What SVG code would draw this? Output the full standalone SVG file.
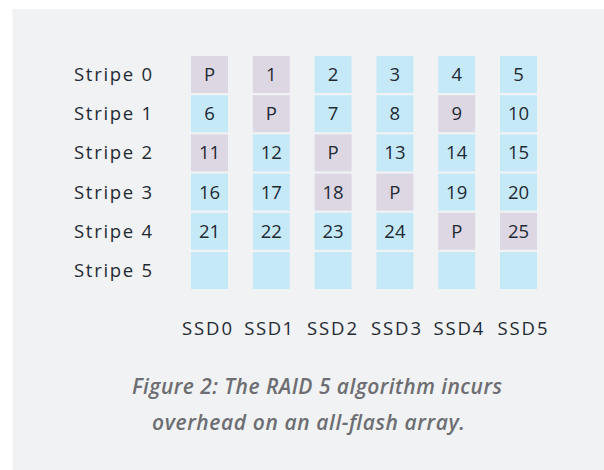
<svg xmlns="http://www.w3.org/2000/svg" width="604" height="470" viewBox="0 0 604 470">
<style>
.bg{fill:#f1f2f4}
.d{fill:#c6e9f8}
.p{fill:#ddd6e3}
.t{font-family:"Open Sans","Liberation Sans",sans-serif;font-size:18.5px;fill:#1f2a33}
.c{text-anchor:middle}
.cap{font-family:"Open Sans","Liberation Sans",sans-serif;font-size:21px;font-style:italic;font-weight:600;fill:#6d6e72;text-anchor:middle}
</style>
<rect class="bg" x="12.5" y="9" width="592" height="461"/>
<g id="stripe-labels" class="t">
<text x="74" y="81" textLength="78" lengthAdjust="spacing">Stripe 0</text>
<text x="74" y="120.2" textLength="78" lengthAdjust="spacing">Stripe 1</text>
<text x="74" y="159.4" textLength="78" lengthAdjust="spacing">Stripe 2</text>
<text x="74" y="198.6" textLength="78" lengthAdjust="spacing">Stripe 3</text>
<text x="74" y="237.8" textLength="78" lengthAdjust="spacing">Stripe 4</text>
<text x="74" y="277" textLength="78" lengthAdjust="spacing">Stripe 5</text>
</g>
<g id="ssd0">
<rect class="p" x="191" y="56" width="37" height="37"/><text class="t c" x="209.5" y="81">P</text>
<rect class="d" x="191" y="95.2" width="37" height="37"/><text class="t c" x="209.5" y="120.2">6</text>
<rect class="p" x="191" y="134.4" width="37" height="37"/><text class="t c" x="209.5" y="159.4">11</text>
<rect class="d" x="191" y="173.6" width="37" height="37"/><text class="t c" x="209.5" y="198.6">16</text>
<rect class="d" x="191" y="212.8" width="37" height="37"/><text class="t c" x="209.5" y="237.8">21</text>
<rect class="d" x="191" y="252" width="37" height="37"/>
<text class="t c" x="207" y="334.5" textLength="50" lengthAdjust="spacing">SSD0</text>
</g>
<g id="ssd1">
<rect class="p" x="252.8" y="56" width="37" height="37"/><text class="t c" x="271.3" y="81">1</text>
<rect class="p" x="252.8" y="95.2" width="37" height="37"/><text class="t c" x="271.3" y="120.2">P</text>
<rect class="d" x="252.8" y="134.4" width="37" height="37"/><text class="t c" x="271.3" y="159.4">12</text>
<rect class="d" x="252.8" y="173.6" width="37" height="37"/><text class="t c" x="271.3" y="198.6">17</text>
<rect class="d" x="252.8" y="212.8" width="37" height="37"/><text class="t c" x="271.3" y="237.8">22</text>
<rect class="d" x="252.8" y="252" width="37" height="37"/>
<text class="t c" x="268.7" y="334.5" textLength="49" lengthAdjust="spacing">SSD1</text>
</g>
<g id="ssd2">
<rect class="d" x="314.6" y="56" width="37" height="37"/><text class="t c" x="333.1" y="81">2</text>
<rect class="d" x="314.6" y="95.2" width="37" height="37"/><text class="t c" x="333.1" y="120.2">7</text>
<rect class="p" x="314.6" y="134.4" width="37" height="37"/><text class="t c" x="333.1" y="159.4">P</text>
<rect class="p" x="314.6" y="173.6" width="37" height="37"/><text class="t c" x="333.1" y="198.6">18</text>
<rect class="d" x="314.6" y="212.8" width="37" height="37"/><text class="t c" x="333.1" y="237.8">23</text>
<rect class="d" x="314.6" y="252" width="37" height="37"/>
<text class="t c" x="332" y="334.5" textLength="50" lengthAdjust="spacing">SSD2</text>
</g>
<g id="ssd3">
<rect class="d" x="376.4" y="56" width="37" height="37"/><text class="t c" x="394.9" y="81">3</text>
<rect class="d" x="376.4" y="95.2" width="37" height="37"/><text class="t c" x="394.9" y="120.2">8</text>
<rect class="d" x="376.4" y="134.4" width="37" height="37"/><text class="t c" x="394.9" y="159.4">13</text>
<rect class="p" x="376.4" y="173.6" width="37" height="37"/><text class="t c" x="394.9" y="198.6">P</text>
<rect class="d" x="376.4" y="212.8" width="37" height="37"/><text class="t c" x="394.9" y="237.8">24</text>
<rect class="d" x="376.4" y="252" width="37" height="37"/>
<text class="t c" x="396" y="334.5" textLength="50" lengthAdjust="spacing">SSD3</text>
</g>
<g id="ssd4">
<rect class="d" x="438.2" y="56" width="37" height="37"/><text class="t c" x="456.7" y="81">4</text>
<rect class="p" x="438.2" y="95.2" width="37" height="37"/><text class="t c" x="456.7" y="120.2">9</text>
<rect class="d" x="438.2" y="134.4" width="37" height="37"/><text class="t c" x="456.7" y="159.4">14</text>
<rect class="d" x="438.2" y="173.6" width="37" height="37"/><text class="t c" x="456.7" y="198.6">19</text>
<rect class="p" x="438.2" y="212.8" width="37" height="37"/><text class="t c" x="456.7" y="237.8">P</text>
<rect class="d" x="438.2" y="252" width="37" height="37"/>
<text class="t c" x="458.4" y="334.5" textLength="50" lengthAdjust="spacing">SSD4</text>
</g>
<g id="ssd5">
<rect class="d" x="500" y="56" width="37" height="37"/><text class="t c" x="518.5" y="81">5</text>
<rect class="d" x="500" y="95.2" width="37" height="37"/><text class="t c" x="518.5" y="120.2">10</text>
<rect class="d" x="500" y="134.4" width="37" height="37"/><text class="t c" x="518.5" y="159.4">15</text>
<rect class="d" x="500" y="173.6" width="37" height="37"/><text class="t c" x="518.5" y="198.6">20</text>
<rect class="p" x="500" y="212.8" width="37" height="37"/><text class="t c" x="518.5" y="237.8">25</text>
<rect class="d" x="500" y="252" width="37" height="37"/>
<text class="t c" x="522.5" y="334.5" textLength="50" lengthAdjust="spacing">SSD5</text>
</g>
<g id="connectors"></g>
<g id="caption">
<text class="cap" x="317" y="394" textLength="370" lengthAdjust="spacing">Figure 2: The RAID 5 algorithm incurs</text>
<text class="cap" x="308.5" y="430" textLength="313" lengthAdjust="spacing">overhead on an all-flash array.</text>
</g>
</svg>
